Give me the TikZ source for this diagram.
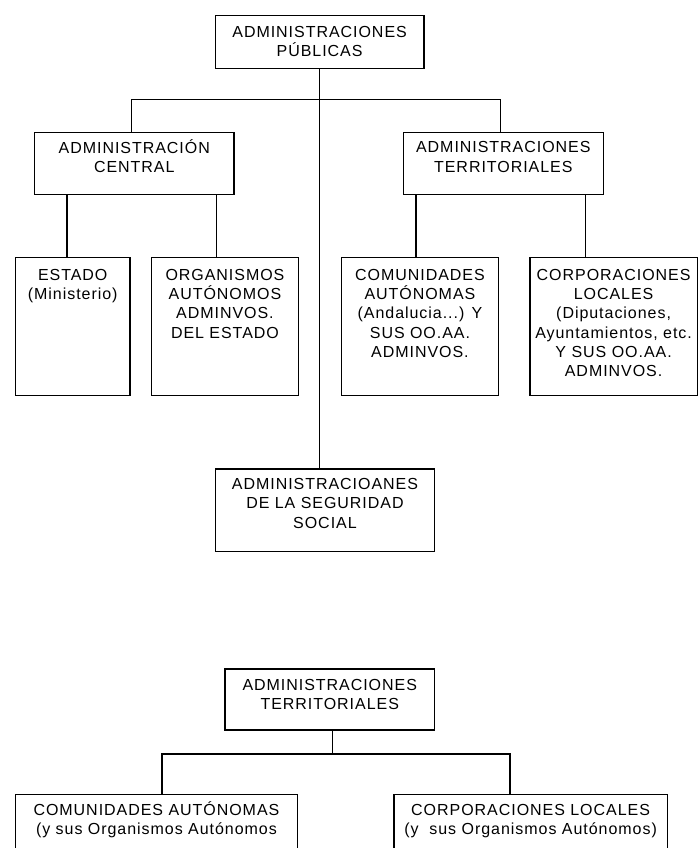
\documentclass[tikz,border=0pt]{standalone}
\usepackage{fontspec}
\setmainfont{Liberation Sans}[LetterSpace=6]
\newcommand\bt[4]{\parbox[c][#2pt][t]{#1pt}{\centering\rule{0pt}{#3pt}#4\par}}
\tikzset{
  bx/.style={draw, line width=1.2pt, inner sep=0pt, anchor=north west,
    font=\fontsize{16}{19.3}\selectfont},
  ln/.style={line width=1.2pt}
}
\begin{document}
\begin{tikzpicture}[x=1pt,y=1pt]
\useasboundingbox (0,0) rectangle (698,-848);
\fill[white] (0,0) rectangle (698,-848);
\clip (0,0) rectangle (698,-848);
% top chart
\node[bx] (top) at (214.7,-15.3) {\bt{208.6}{53}{21.2}{ADMINISTRACIONES\\PÚBLICAS}};
\node[bx] (central) at (34,-131.7) {\bt{199.3}{62.3}{21.4}{ADMINISTRACIÓN\\CENTRAL}};
\node[bx] (terr) at (402.7,-131.7) {\bt{200}{62.3}{20.7}{ADMINISTRACIONES\\TERRITORIALES}};
\node[bx] (estado) at (15,-256.7) {\bt{114.3}{138.3}{23}{ESTADO\\(Ministerio)}};
\node[bx] (organ) at (151,-256.7) {\bt{146.7}{138.3}{23}{ORGANISMOS\\AUTÓNOMOS\\ADMINVOS.\\DEL ESTADO}};
\node[bx] (comun) at (341,-256.7) {\bt{156.7}{138.3}{23}{COMUNIDADES\\AUTÓNOMAS\\(Andalucia...) Y\\SUS OO.AA.\\ADMINVOS.}};
\node[bx] (corp) at (529.3,-256.7) {\bt{167.4}{138.3}{23}{CORPORACIONES\\LOCALES\\(Diputaciones,\\Ayuntamientos, etc.\\Y SUS OO.AA.\\ADMINVOS.}};
\node[bx] (segur) at (214.7,-468.3) {\bt{219.3}{82.4}{20.7}{ADMINISTRACIOANES\\DE LA SEGURIDAD\\SOCIAL}};
% connectors
\coordinate (tv) at (top.south);
\draw[ln] (tv) -- (tv |- segur.north);
\draw[ln] ([xshift=-2.7]central.north) -- ++(0,32.4) -| ([xshift=-2.7]terr.north);
\draw[ln] ([xshift=33]central.south west) -- ([xshift=33]central.south west |- estado.north);
\draw[ln] ([xshift=-18.3]central.south east) -- ([xshift=-18.3]central.south east |- organ.north);
\draw[ln] ([xshift=13.3]terr.south west) -- ([xshift=13.3]terr.south west |- comun.north);
\draw[ln] ([xshift=-18.7]terr.south east) -- ([xshift=-18.7]terr.south east |- corp.north);
% bottom chart
\node[bx] (bterr) at (224.3,-668.3) {\bt{209.7}{61}{21.2}{ADMINISTRACIONES\\TERRITORIALES}};
\node[bx] (bcom) at (15,-794) {\bt{281.7}{70}{20.7}{COMUNIDADES AUTÓNOMAS\\(y sus Organismos Autónomos}};
\node[bx] (bcorp) at (393.3,-794) {\bt{273.4}{70}{20.7}{CORPORACIONES LOCALES\\(y\ \ sus Organismos Autónomos)}};
\draw[ln] ([xshift=2.5]bterr.south) -- ++(0,-23.4) coordinate (bm);
\draw[ln] ([xshift=5.5]bcom.north) |- (bm) -| ([xshift=-20.7]bcorp.north);
\end{tikzpicture}
\end{document}
